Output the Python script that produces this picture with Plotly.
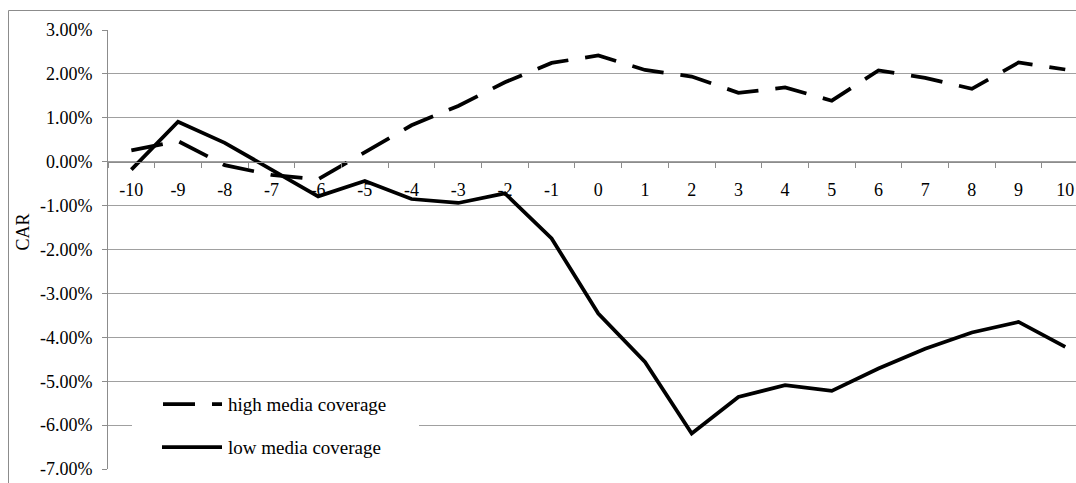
import plotly.graph_objects as go

# ---- data (CAR in %) ----
event_days = ["-10", "-9", "-8", "-7", "-6", "-5", "-4", "-3", "-2", "-1", "0",
              "1", "2", "3", "4", "5", "6", "7", "8", "9", "10"]
high_media = [0.26, 0.47, -0.08, -0.30, -0.40, 0.22, 0.83, 1.27, 1.81, 2.25, 2.42,
              2.09, 1.94, 1.57, 1.69, 1.39, 2.08, 1.91, 1.66, 2.26, 2.10]
low_media = [-0.18, 0.91, 0.43, -0.18, -0.79, -0.44, -0.85, -0.94, -0.72, -1.75, -3.46,
             -4.56, -6.19, -5.36, -5.09, -5.22, -4.71, -4.26, -3.89, -3.65, -4.22]
y_tick_values = [3, 2, 1, 0, -1, -2, -3, -4, -5, -6, -7]
y_tick_labels = ["3.00%", "2.00%", "1.00%", "0.00%", "-1.00%", "-2.00%",
                 "-3.00%", "-4.00%", "-5.00%", "-6.00%", "-7.00%"]
series_names = ["high media coverage", "low media coverage"]

# ---- layout geometry (pixels) ----
W, H = 1076, 483
ML, MR, MT, MB = 108, 0, 30, 14
PW, PH = W - ML - MR, H - MT - MB
FONT = "'Liberation Serif', 'Times New Roman', Times, 'DejaVu Serif', serif"
GRID = "#a0a0a0"
AXIS = "#8c8c8c"


def px_x(p):
    return (p - ML) / PW


def px_y(p):
    return (H - MB - p) / PH


fig = go.Figure()
fig.add_trace(go.Scatter(
    x=event_days, y=high_media, mode="lines", name=series_names[0],
    line=dict(color="black", width=3.75, dash="32px,17px"), showlegend=False,
))
fig.add_trace(go.Scatter(
    x=event_days, y=low_media, mode="lines", name=series_names[1],
    line=dict(color="black", width=3.75), showlegend=False,
))

ymin, ymax = y_tick_values[-1], y_tick_values[0]
zero_pos = (0 - ymin) / (ymax - ymin)

fig.update_layout(
    width=W, height=H,
    margin=dict(l=ML, r=MR, t=MT, b=MB, pad=0),
    paper_bgcolor="white", plot_bgcolor="white",
    font=dict(family=FONT, size=18, color="black"),
    showlegend=False,
    xaxis=dict(
        type="category", range=[-0.5, 20.23], tickson="boundaries",
        ticks="outside", ticklen=5, tickcolor=AXIS, showgrid=False,
        showline=True, linecolor=AXIS, linewidth=1,
        anchor="free", position=zero_pos, ticklabelstandoff=12,
        tickfont=dict(family=FONT, size=18, color="black"),
    ),
    yaxis=dict(
        range=[ymin, ymax], domain=[0, 1], tickmode="array",
        tickvals=y_tick_values, ticktext=y_tick_labels,
        ticks="outside", ticklen=5, tickcolor=AXIS,
        showgrid=True, gridcolor=GRID, gridwidth=1, zeroline=False,
        showline=True, linecolor=AXIS, linewidth=1, ticklabelstandoff=6,
        tickfont=dict(family=FONT, size=18, color="black"),
    ),
)

shapes = []
# chart area frame (left and top edges visible)
shapes.append(dict(type="line", xref="paper", yref="paper",
                   x0=px_x(8.5), x1=px_x(8.5), y0=px_y(10.5), y1=px_y(500),
                   line=dict(color=AXIS, width=1)))
shapes.append(dict(type="line", xref="paper", yref="paper",
                   x0=px_x(8.5), x1=px_x(1100), y0=px_y(10.5), y1=px_y(10.5),
                   line=dict(color=AXIS, width=1)))
# legend box
shapes.append(dict(type="rect", xref="paper", yref="paper", layer="above",
                   x0=px_x(132), x1=px_x(419), y0=px_y(474), y1=px_y(386),
                   fillcolor="white", line=dict(width=0)))
shapes.append(dict(type="line", xref="paper", yref="paper", layer="above",
                   x0=px_x(163), x1=px_x(222), y0=px_y(404), y1=px_y(404),
                   line=dict(color="black", width=3.75, dash="32px,17px")))
shapes.append(dict(type="line", xref="paper", yref="paper", layer="above",
                   x0=px_x(162), x1=px_x(222), y0=px_y(447), y1=px_y(447),
                   line=dict(color="black", width=3.75)))
fig.update_layout(shapes=shapes)

annotations = [
    dict(text=series_names[0], xref="paper", yref="paper", x=px_x(226), y=px_y(404),
         xanchor="left", yanchor="middle", showarrow=False,
         font=dict(family=FONT, size=19, color="black")),
    dict(text=series_names[1], xref="paper", yref="paper", x=px_x(226), y=px_y(447),
         xanchor="left", yanchor="middle", showarrow=False,
         font=dict(family=FONT, size=19, color="black")),
    dict(text="CAR", xref="paper", yref="paper", x=px_x(22), y=px_y(232.5),
         xanchor="center", yanchor="middle", textangle=-90, showarrow=False,
         font=dict(family=FONT, size=18, color="black")),
]
fig.update_layout(annotations=annotations)

fig.write_html("out.html", config={"displayModeBar": False},
               post_script="document.body.style.margin='0';document.body.style.overflow='hidden';")
